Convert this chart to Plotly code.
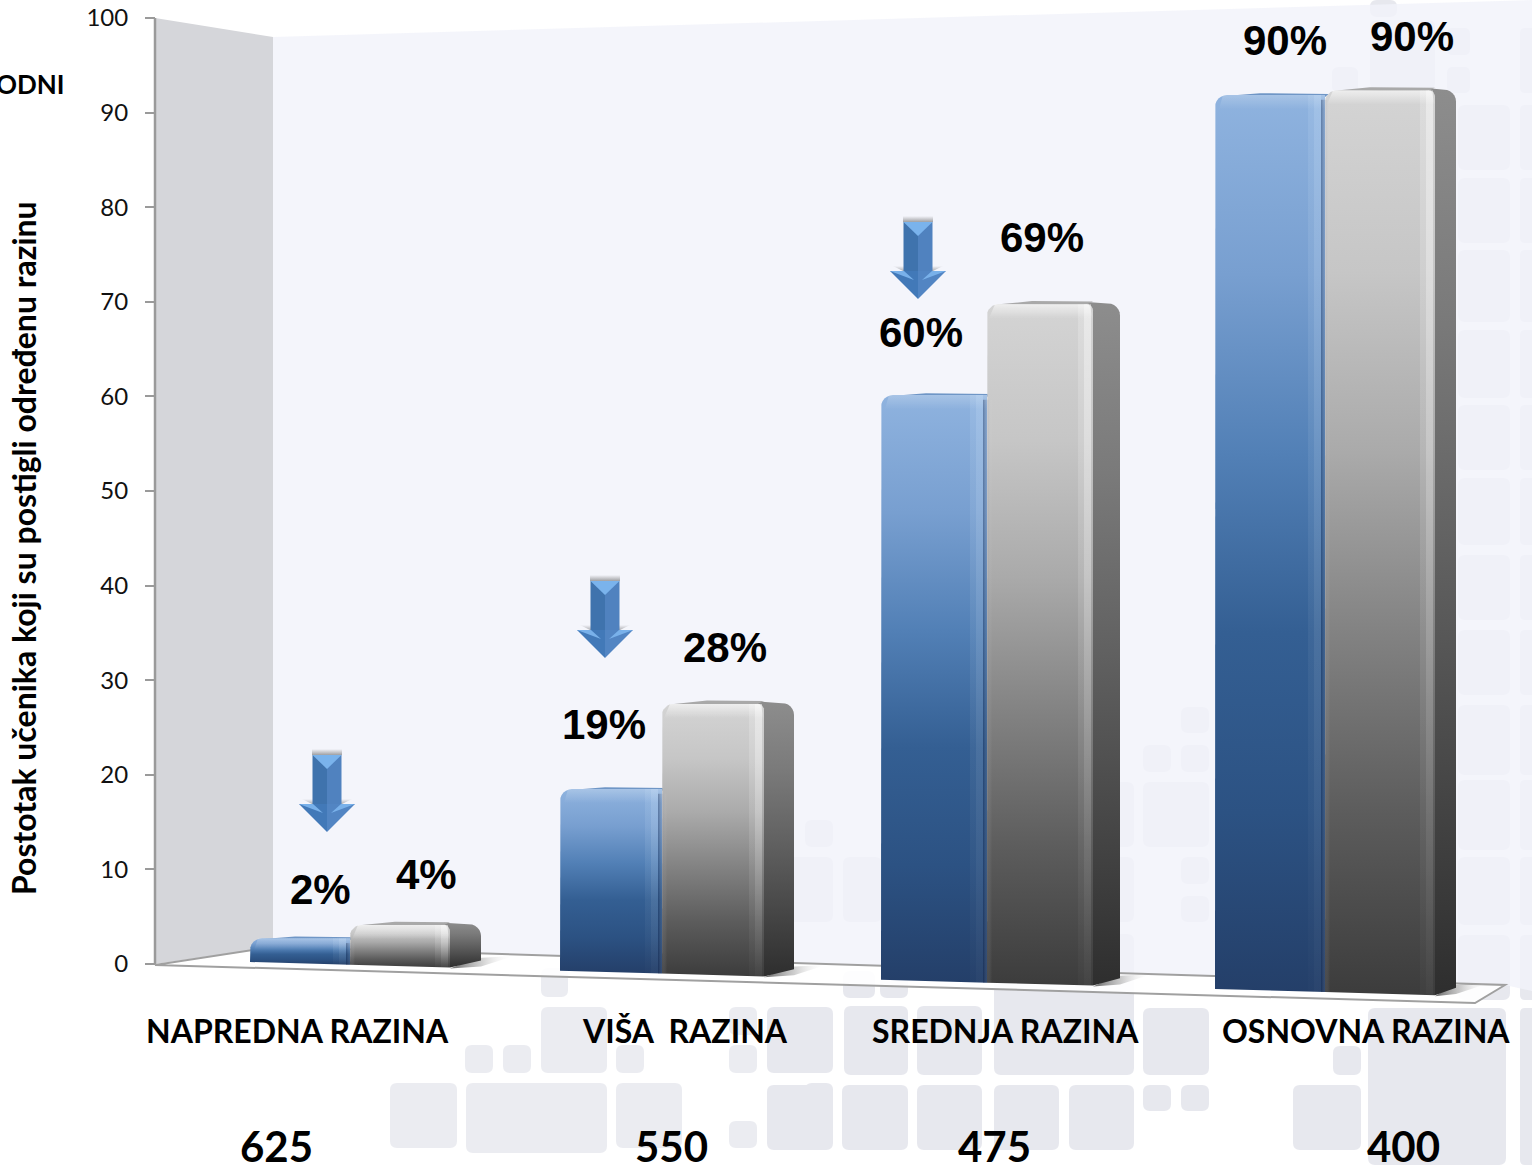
import math
import plotly.graph_objects as go

# ---------- data ----------
LEVELS = ["NAPREDNA RAZINA", "VIŠA  RAZINA", "SREDNJA RAZINA", "OSNOVNA RAZINA"]
THRESHOLDS = ["625", "550", "475", "400"]
LABELS_BLUE = ["2%", "19%", "60%", "90%"]
LABELS_GRAY = ["4%", "28%", "69%", "90%"]
VALUES_BLUE = [2.5, 19.2, 61.8, 94.5]
VALUES_GRAY = [4.2, 28.5, 71.7, 95.3]
Y_TICKS = [0, 10, 20, 30, 40, 50, 60, 70, 80, 90, 100]
Y_TITLE = "Postotak učenika koji su postigli određenu razinu"

# ---------- page scale ----------
W, H = 1532, 1165
Y0_PX, PX_PER_UNIT = 964.0, 9.46
PX_TO_V = 1 / PX_PER_UNIT
def v(py):
    return (Y0_PX - py) / PX_PER_UNIT

# ---------- perspective layout of the bar groups ----------
LEFT = [250, 560, 881, 1215]
WIDTH_BLUE = [100, 102, 106, 110]
WIDTH_GRAY = [100, 102, 106, 110]
SIDE = [31, 30, 27, 21]
def base(x):
    return v(955 + 0.028 * x)

fig = go.Figure()

def poly(xs, ys, color=None, grad=None, kind="vertical"):
    kw = dict(x=xs + xs[:1], y=ys + ys[:1], mode="lines", fill="toself",
              line=dict(width=0), hoverinfo="skip", showlegend=False)
    if grad:
        n = len(grad) - 1
        kw["fillgradient"] = dict(type=kind,
                                  colorscale=[[i / n, c] for i, c in enumerate(grad)])
    else:
        kw["fillcolor"] = color
    fig.add_trace(go.Scatter(**kw))

def arc(cx, cy, r, a0, a1, n=6):
    xs, ys = [], []
    for i in range(n + 1):
        a = math.radians(a0 + (a1 - a0) * i / n)
        xs.append(cx + r * math.cos(a))
        ys.append(cy + r * PX_TO_V * math.sin(a))
    return xs, ys

def front(x0, x1, y_base0, y_base1, y_top, r_left, r_right, grad):
    xs, ys = [x0], [y_base0]
    ax, ay = arc(x0 + r_left, y_top - r_left * PX_TO_V, r_left, 180, 90)
    xs += ax; ys += ay
    if r_right:
        ax, ay = arc(x1 - r_right, y_top - r_right * PX_TO_V, r_right, 90, 0)
        xs += ax; ys += ay
    else:
        xs.append(x1); ys.append(y_top)
    xs.append(x1); ys.append(y_base1)
    poly(xs, ys, grad=grad)

# colour ramps run bottom -> top
BLUE = ["#243f69", "#2c5283", "#345f93", "#5280b6", "#789fd0", "#8fb3df"]
GRAY = ["#3c3c3c", "#5c5c5c", "#828282", "#aaaaaa", "#c6c6c6", "#d4d4d4"]
SIDE_G = ["#2e2e2e", "#484848", "#626262", "#7a7a7a", "#8d8d8d"]

for i in range(4):
    xb0 = LEFT[i]
    xb1 = xb0 + WIDTH_BLUE[i]
    xg1 = xb1 + WIDTH_GRAY[i]
    xs1 = xg1 + SIDE[i]
    top_b = base(xb0) + VALUES_BLUE[i]
    top_g = base(xb1) + VALUES_GRAY[i]

    # floor shadow
    poly([xg1, xs1 - 4, xs1 + 32, xs1],
         [base(xg1) - 0.1, base(xs1) + 1.1, base(xs1) + 1.3, base(xs1) + 0.2],
         grad=["rgba(50,50,50,0.75)", "rgba(120,120,120,0.35)", "rgba(255,255,255,0)"], kind="horizontal")

    # blue lid
    poly([xb0 + 10, xb0 + 45, xb1 + 4, xb1],
         [top_b - 0.1, top_b + 0.2, top_b + 0.12, top_b - 0.2],
         color="#6f96c6")
    # blue front
    front(xb0, xb1, base(xb0), base(xb1), top_b, 12, 0, BLUE)
    hb = min(14, (top_b - base(xb1)) * PX_PER_UNIT * 0.45) * PX_TO_V
    poly([xb0 + 8, xb1, xb1, xb0 + 4], [top_b, top_b, top_b - hb, top_b - hb],
         grad=["rgba(255,255,255,0.0)", "rgba(255,255,255,0.22)"])
    poly([xb1 - 17, xb1 - 11, xb1 - 11, xb1 - 17], [top_b, top_b, base(xb1), base(xb1)],
         grad=["rgba(255,255,255,0.01)", "rgba(215,235,255,0.12)"])
    poly([xb1 - 11, xb1 - 4, xb1 - 4, xb1 - 11], [top_b, top_b, base(xb1), base(xb1)],
         grad=["rgba(255,255,255,0.03)", "rgba(215,235,255,0.26)"])

    # gray side + lid
    ax, ay = arc(xs1 - 12, top_g + 0.1 - 12 * PX_TO_V, 12, 90, 0)
    poly([xg1 - 6] + ax + [xs1, xg1],
         [top_g + 0.25] + ay + [base(xs1) + 0.85, base(xg1)], grad=SIDE_G)
    poly([xb1 + 12, xb1 + 45, xg1, xg1 - 8],
         [top_g, top_g + 0.35, top_g + 0.3, top_g - 0.1], color="#a9a9a9")
    # gray front
    front(xb1, xg1, base(xb1), base(xg1), top_g, 11, 6, GRAY)
    hg = min(14, (top_g - base(xg1)) * PX_PER_UNIT * 0.4) * PX_TO_V
    poly([xb1 + 8, xg1 - 4, xg1, xb1 + 2], [top_g, top_g, top_g - hg, top_g - hg],
         grad=["rgba(255,255,255,0.0)", "rgba(255,255,255,0.6)"])
    poly([xg1 - 15, xg1 - 9, xg1 - 9, xg1 - 15], [top_g, top_g, base(xg1), base(xg1)],
         grad=["rgba(255,255,255,0.02)", "rgba(255,255,255,0.2)"])
    poly([xg1 - 9, xg1 - 2, xg1 - 2, xg1 - 9], [top_g, top_g, base(xg1), base(xg1)],
         grad=["rgba(255,255,255,0.04)", "rgba(255,255,255,0.5)"])
    poly([xb1 - 4, xb1 + 5, xb1 + 5, xb1 - 4], [top_b - 0.5, top_b - 0.5, base(xb1), base(xb1)],
         grad=["rgba(10,25,60,0.35)", "rgba(255,255,255,0)"], kind="horizontal")

# ---------- arrows over three blue bars ----------
ARROW_X = [327, 605, 918]
ARROW_TOP = [755, 581, 222]
for cx, t in zip(ARROW_X, ARROW_TOP):
    # soft shadow above and beside the shaft
    poly([cx - 15, cx + 15, cx + 15, cx - 15], [v(t - 6), v(t - 6), v(t), v(t)],
         grad=["rgba(90,90,90,0.55)", "rgba(90,90,90,0)"])
    poly([cx - 25, cx + 25, cx + 15, cx - 15], [v(t + 44), v(t + 44), v(t + 49), v(t + 49)],
         grad=["rgba(90,90,90,0.45)", "rgba(90,90,90,0)"])
    # shaft halves
    poly([cx - 14.5, cx, cx, cx - 14.5], [v(t), v(t), v(t + 50), v(t + 50)], color="#3f73ad")
    poly([cx, cx + 14.5, cx + 14.5, cx], [v(t), v(t), v(t + 50), v(t + 50)], color="#5082bf")
    # head halves
    poly([cx - 28, cx, cx], [v(t + 49), v(t + 77), v(t + 49)], color="#4279b8")
    poly([cx, cx + 28, cx], [v(t + 77), v(t + 49), v(t + 49)], color="#5285c3")
    # bevels
    poly([cx - 14.5, cx + 14.5, cx], [v(t), v(t), v(t + 14)], color="#7ab3ec")
    poly([cx - 28, cx - 14, cx - 4], [v(t + 49), v(t + 49), v(t + 58)], color="#79b1ea")
    poly([cx + 28, cx + 14, cx + 4], [v(t + 49), v(t + 49), v(t + 58)], color="#79b1ea")
    poly([cx - 28, cx - 4, cx - 14], [v(t + 49), v(t + 58), v(t + 55)], color="#9fcdf7")
    poly([cx + 28, cx + 4, cx + 14], [v(t + 49), v(t + 58), v(t + 55)], color="#9fcdf7")

# ---------- the y axis line ----------
fig.add_trace(go.Scatter(x=[155, 155], y=[0, 100], mode="lines",
                         line=dict(color="#9a9a9a", width=2.5),
                         hoverinfo="skip", showlegend=False))

# ---------- decorative backdrop squares ----------
SQUARES = [
    (390,1083,457,1148),(466,1083,607,1153),(616,1083,682,1148),(465,1045,493,1073),(503,1045,531,1073),
    (541,1007,607,1073),(616,1045,644,1073),(541,968,568,997),(729,1007,757,1035),(767,1007,833,1073),
    (729,1045,757,1073),(805,1083,833,1110),(729,1121,757,1148),(805,820,833,847),(767,857,833,922),
    (843,857,882,922),(843,971,875,998),(880,971,908,998),(1181,707,1209,733),(1143,745,1171,772),
    (1181,745,1209,772),(1143,782,1209,847),(1104,782,1134,847),(1181,857,1209,884),(1181,896,1209,922),
    (1104,857,1134,922),(994,934,1134,1075),(917,1006,982,1075),(844,1006,908,1075),(1143,1008,1209,1075),
    (1333,1046,1361,1075),(1368,1008,1506,1165),(1520,1008,1540,1165),(1293,1085,1361,1150),(842,1085,908,1150),
    (917,1085,982,1150),(994,1085,1059,1150),(1069,1085,1134,1150),(1143,1085,1171,1111),(1181,1085,1209,1111),
    (767,1085,833,1150),(1458,105,1510,170),(1458,178,1510,243),(1458,250,1510,322),(1458,330,1510,398),
    (1458,405,1510,470),(1458,478,1510,545),(1458,555,1510,620),(1458,630,1510,695),(1458,705,1510,775),
    (1458,780,1510,850),(1458,857,1510,925),(1458,935,1510,1000),(1520,105,1540,170),(1520,178,1540,243),
    (1520,250,1540,322),(1520,330,1540,398),(1520,405,1540,470),(1520,478,1540,545),(1520,555,1540,620),
    (1520,630,1540,695),(1520,705,1540,775),(1520,780,1540,850),(1520,857,1540,925),(1520,935,1540,1000),
    (1370,0,1397,17),(1370,20,1435,90),(1447,28,1470,55),(1447,67,1470,93),(1332,67,1358,93),(1520,28,1540,93),
]
def rrect(x0, y0, x1, y1):
    r = min(7, (x1 - x0) / 4)
    rv = r * PX_TO_V
    a, b = v(y0), v(y1)
    return (f"M {x0+r} {a} L {x1-r} {a} Q {x1} {a} {x1} {a-rv} L {x1} {b+rv} Q {x1} {b} {x1-r} {b} "
            f"L {x0+r} {b} Q {x0} {b} {x0} {b+rv} L {x0} {a-rv} Q {x0} {a} {x0+r} {a} Z")

def path(points):
    return "M " + " L ".join(f"{x} {v(y)}" for x, y in points) + " Z"

shapes = [dict(type="path", path=rrect(*s), xref="x", yref="y", layer="below",
               fillcolor="#ebecf1" if s[0] < 760 else "#e7e8ee", line=dict(width=0)) for s in SQUARES]
# back wall, side wall, floor
shapes.append(dict(type="path", path=path([(273, 37), (1532, 0), (1532, 991), (1505, 985), (273, 947)]),
                   xref="x", yref="y", layer="below", fillcolor="rgba(241,243,250,0.82)", line=dict(width=0)))
shapes.append(dict(type="path", path=path([(155, 18), (273, 37), (273, 947), (155, 964)]),
                   xref="x", yref="y", layer="below", fillcolor="#d5d6da", line=dict(width=0)))
shapes.append(dict(type="path", path=path([(155, 965), (273, 947), (1505, 985), (1475, 1003)]),
                   xref="x", yref="y", layer="below", fillcolor="rgba(255,255,255,0.9)",
                   line=dict(color="#a0a0a0", width=2)))

# ---------- text ----------
annotations = []
def text(x, y, s, size, family, angle=0, xanchor="center"):
    annotations.append(dict(x=x, y=v(y), text=s, showarrow=False, xanchor=xanchor, yanchor="middle",
                            textangle=angle, font=dict(size=size, family=family, color="#000000")))

SANS = "Liberation Sans"
LAB = "Lato"
POS_BLUE = [(320, 889), (604, 724), (921, 332), (1285, 40)]
POS_GRAY = [(426, 874), (725, 647), (1042, 237), (1412, 36)]
for s, (x, y) in zip(LABELS_BLUE, POS_BLUE):
    text(x, y, f"<b>{s}</b>", 42, SANS)
for s, (x, y) in zip(LABELS_GRAY, POS_GRAY):
    text(x, y, f"<b>{s}</b>", 42, SANS)
for s, x in zip(LEVELS, [297, 685, 1005, 1366]):
    text(x, 1030, f"<b>{s.replace('  ', '&nbsp;&nbsp;')}</b>", 32, LAB)
for s, x in zip(THRESHOLDS, [276, 671, 994, 1403]):
    text(x, 1146, f"<b>{s}</b>", 42, LAB)
text(23, 548, f"<b>{Y_TITLE}</b>", 32, LAB, angle=-90)
text(67, 84, "<b>ODNI</b>", 26, LAB, xanchor="right")

fig.update_layout(
    width=W, height=H, margin=dict(l=0, r=0, t=0, b=0),
    paper_bgcolor="#ffffff", plot_bgcolor="rgba(0,0,0,0)",
    showlegend=False, shapes=shapes, annotations=annotations,
    xaxis=dict(range=[0, W], domain=[0, 1], visible=False, fixedrange=True),
    yaxis=dict(range=[v(H), v(0)], domain=[0, 1], anchor="free", position=155 / W,
               tickvals=Y_TICKS, ticks="outside", ticklen=10, tickwidth=2, tickcolor="#9a9a9a",
               ticklabelstandoff=12,
               showgrid=False, zeroline=False, showline=False, fixedrange=True,
               tickfont=dict(family=LAB, size=24, color="#111111")),
)
fig.write_html("out.html", config=dict(displayModeBar=False),
               post_script="document.body.style.margin='0';")
